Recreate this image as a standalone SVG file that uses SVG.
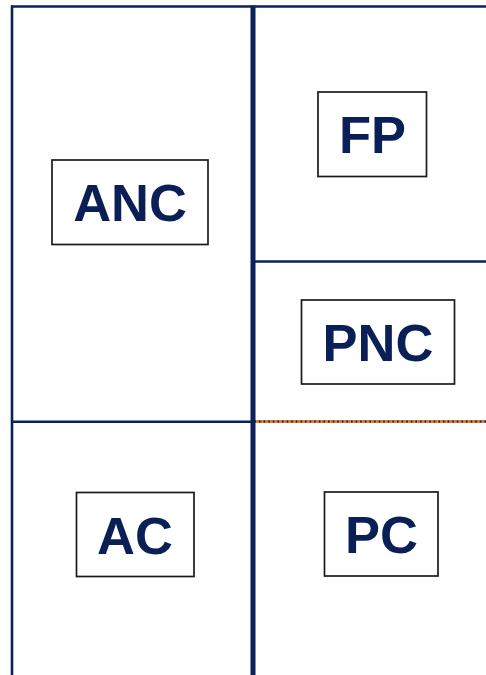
<svg xmlns="http://www.w3.org/2000/svg" width="486" height="675" viewBox="0 0 486 675">
<style>
.ln{stroke:#0a2259;fill:none}
.box rect{fill:#ffffff;stroke:#1a1a1a;stroke-width:1.7}
.box text{font-family:"Liberation Sans",Arial,sans-serif;font-weight:bold;font-size:52.5px;fill:#0a1f55;text-anchor:middle}
</style>
<rect width="486" height="675" fill="#ffffff"/>
<g id="connectors">
<line class="ln" x1="11" y1="6.5" x2="486" y2="6.5" stroke-width="2.6"/>
<line class="ln" x1="12" y1="5.5" x2="12" y2="675" stroke-width="2.6"/>
<line class="ln" x1="253" y1="5.5" x2="253" y2="675" stroke-width="5"/>
<line class="ln" x1="253" y1="261.5" x2="486" y2="261.5" stroke-width="2.6"/>
<line class="ln" x1="12" y1="421.7" x2="253" y2="421.7" stroke-width="2.6"/>
<line class="ln" x1="255" y1="421.5" x2="486" y2="421.5" stroke-width="2.6"/>
<line x1="256" y1="421.5" x2="486" y2="421.5" stroke="#f07a22" stroke-width="2.8" stroke-dasharray="3 1.6"/>
</g>
<g id="ANC" class="box"><rect x="52" y="160" width="156" height="84.5"/><text x="130" y="221">ANC</text></g>
<g id="FP" class="box"><rect x="318" y="92" width="108.5" height="84.5"/><text x="372.5" y="153">FP</text></g>
<g id="PNC" class="box"><rect x="301.5" y="300" width="153" height="84"/><text x="378" y="361">PNC</text></g>
<g id="AC" class="box"><rect x="76.5" y="492.5" width="117.5" height="84"/><text x="135" y="553.5">AC</text></g>
<g id="PC" class="box"><rect x="324.5" y="492" width="113.5" height="84"/><text x="381.5" y="553">PC</text></g>
</svg>
